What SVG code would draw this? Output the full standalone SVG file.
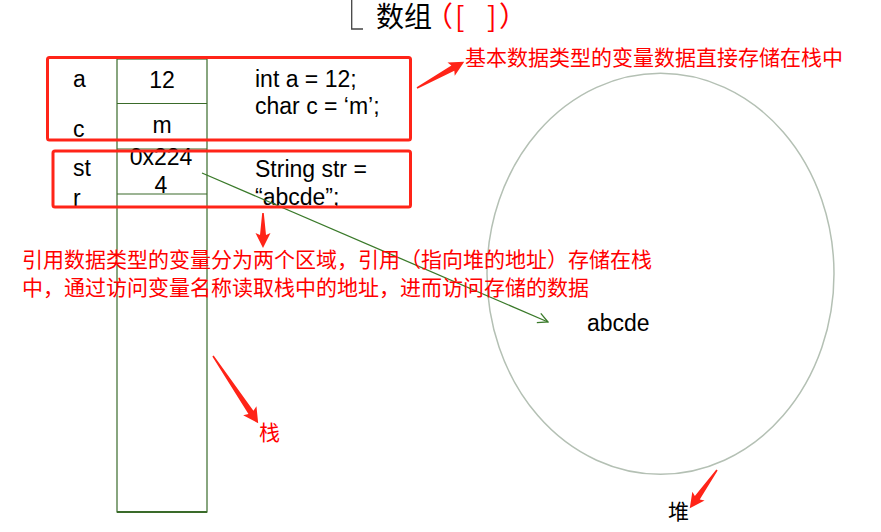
<svg xmlns="http://www.w3.org/2000/svg" width="881" height="532" viewBox="0 0 881 532">
<style>
.lat{font-family:"Liberation Sans",Arial,sans-serif;font-size:23px;fill:#000}
.cjk{font-family:"Noto Sans CJK SC",sans-serif;font-size:21px}
.red{fill:#ff0000}
.cell{fill:#fff;stroke:#3a6b2a;stroke-width:1.2}
.box{fill:none;stroke:#ff2418;stroke-width:3}
.rarrow{fill:#ff2418}
</style>
<defs>
<marker id="open" viewBox="0 0 12 12" refX="11" refY="6" markerWidth="12" markerHeight="12" markerUnits="userSpaceOnUse" orient="auto">
<path d="M1,1 L11,6 L1,11" fill="none" stroke="#3a7a2a" stroke-width="1.3"/>
</marker>
</defs>
<rect width="881" height="532" fill="#fff"/>

<g id="title">
<path d="M351.7,0 V29 H363" fill="none" stroke="#444" stroke-width="1.3"/>
<text x="376" y="27" style="font-family:'Noto Sans CJK SC',sans-serif;font-size:28px;fill:#000">数组<tspan class="red" x="425">（</tspan><tspan class="red" x="455">[</tspan><tspan class="red" x="487">]</tspan><tspan class="red" x="499">）</tspan></text>
</g>

<g id="heap">
<ellipse cx="660.5" cy="273.8" rx="173.5" ry="200.5" fill="none" stroke="#b4c0b4" stroke-width="1.5"/>
<text class="lat" x="587" y="331">abcde</text>
<text class="cjk" x="668" y="519" fill="#000">堆</text>
</g>

<g id="stack">
<rect class="cell" x="117" y="59" width="90" height="453"/>
<line x1="117" y1="512" x2="207" y2="512" stroke="#3a6b2a" stroke-width="2"/>
<line x1="117" y1="103.5" x2="207" y2="103.5" stroke="#3a6b2a" stroke-width="1.2"/>
<line x1="117" y1="149" x2="207" y2="149" stroke="#3a6b2a" stroke-width="1.2"/>
<line x1="117" y1="194" x2="207" y2="194" stroke="#3a6b2a" stroke-width="1.2"/>
<text class="lat" x="162" y="88" text-anchor="middle">12</text>
<text class="lat" x="162" y="133" text-anchor="middle">m</text>
<text class="lat" x="161" y="165" text-anchor="middle">0x224</text>
<text class="lat" x="161" y="193" text-anchor="middle">4</text>
</g>

<g id="primitive-vars">
<text class="lat" x="73" y="87">a</text>
<text class="lat" x="73" y="137">c</text>
<text class="lat" x="255" y="87">int a = 12;</text>
<text class="lat" x="255" y="114">char c = ‘m’;</text>
<rect class="box" x="47.5" y="57.5" width="363" height="82.5" rx="2"/>
</g>

<g id="reference-var">
<text class="lat" x="73" y="176">st</text>
<text class="lat" x="73" y="206">r</text>
<text class="lat" x="255" y="177">String str =</text>
<text class="lat" x="255" y="205">“abcde”;</text>
</g>

<g id="connectors">
<line x1="202" y1="173" x2="548" y2="322" stroke="#3a7a2a" stroke-width="1.3" marker-end="url(#open)"/>
</g>

<g id="reference-box">
<rect class="box" x="53" y="151" width="357.5" height="56" rx="2"/>
</g>

<g id="note-primitive">
<polygon class="rarrow" transform="translate(417,88) rotate(-29)" points="0,-0.8 41,-3 39,-7.5 54,0 39,7.5 41,3 0,0.8"/>
<text class="cjk red" x="465" y="65">基本数据类型的变量数据直接存储在栈中</text>
</g>

<g id="note-reference">
<polygon class="rarrow" transform="translate(263,213) rotate(90)" points="0,-0.8 22,-3 20,-7.5 35,0 20,7.5 22,3 0,0.8"/>
<text class="cjk red" x="22" y="266.5">引用数据类型的变量分为两个区域，引用（指向堆的地址）存储在栈</text>
<text class="cjk red" x="22" y="295">中，通过访问变量名称读取栈中的地址，进而访问存储的数据</text>
</g>

<g id="note-stack">
<polygon class="rarrow" transform="translate(213,356) rotate(56.1)" points="0,-0.8 68,-3 66,-8 81,0 66,8 68,3 0,0.8"/>
<text class="cjk red" x="259" y="440">栈</text>
</g>

<g id="note-heap">
<polygon class="rarrow" transform="translate(717,470) rotate(125.4)" points="0,-0.8 34,-3 32,-7.5 47,0 32,7.5 34,3 0,0.8"/>
</g>
</svg>
